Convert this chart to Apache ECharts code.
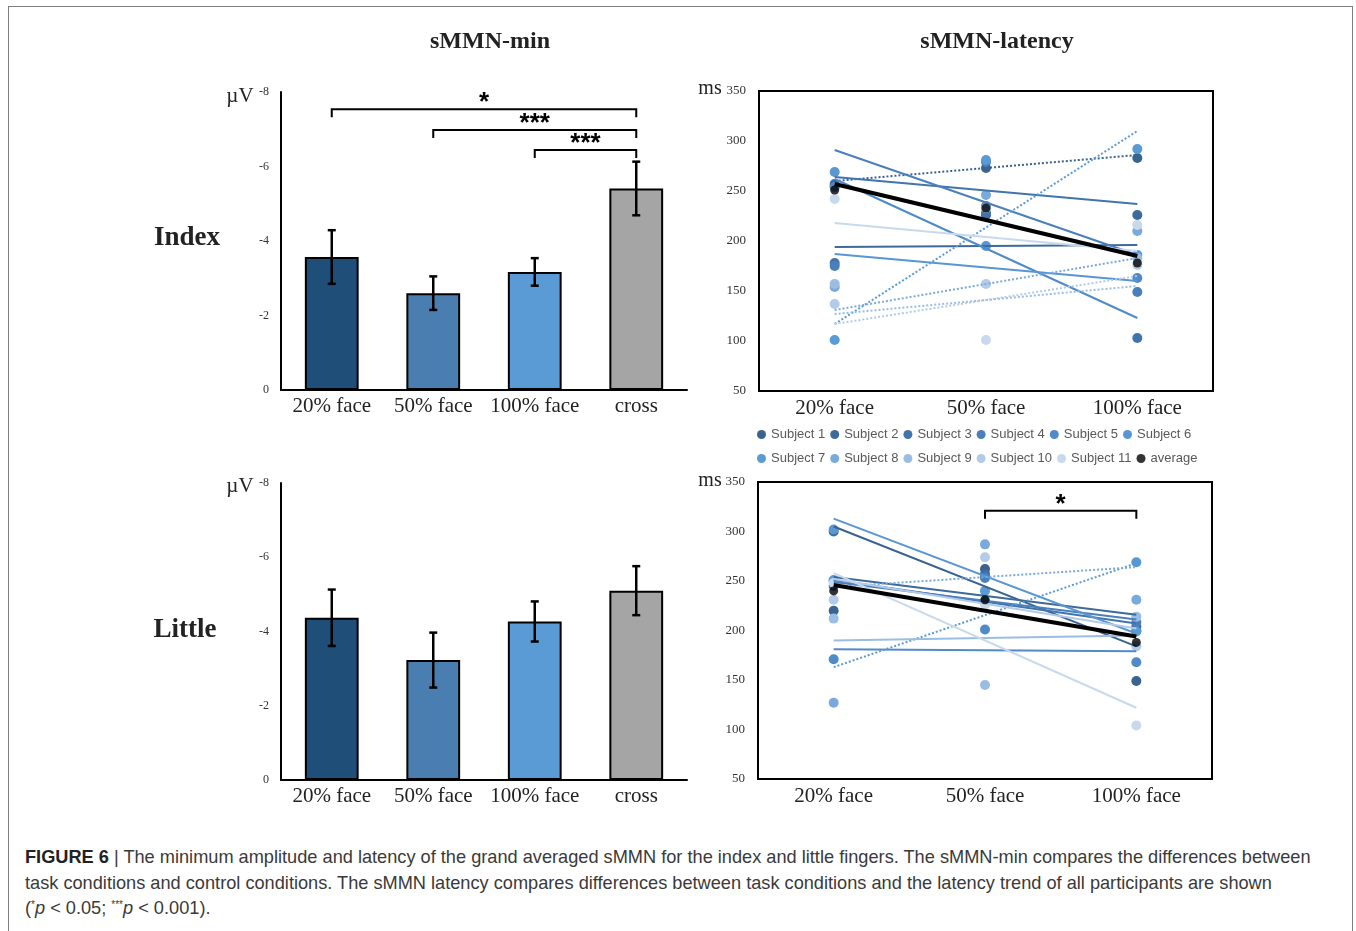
<!DOCTYPE html>
<html>
<head>
<meta charset="utf-8">
<title>sMMN-min and sMMN-latency</title>
<script src="https://cdn.jsdelivr.net/npm/echarts@6/dist/echarts.min.js"></script>
<style>
  html, body { margin: 0; padding: 0; background: #fff; }
  #frame {
    position: absolute; left: 8px; top: 6px; width: 1345px; height: 940px;
    border: 1px solid #7f7f7f; box-sizing: border-box;
  }
  #chart { position: absolute; left: 0; top: 0; width: 1356px; height: 840px; }
  #caption {
    position: absolute; left: 25px; top: 845px;
    font-family: "Liberation Sans", Arial, sans-serif; font-size: 18.2px;
    line-height: 25.5px; color: #3a3a3a; white-space: nowrap;
  }
  #caption b { color: #222; }
  #caption sup { font-size: 10px; vertical-align: 6px; line-height: 0; }
</style>
</head>
<body>
<div id="frame"></div>
<div id="chart"></div>
<div id="caption">
  <b>FIGURE 6</b> | The minimum amplitude and latency of the grand averaged sMMN for the index and little fingers. The sMMN-min compares the differences between<br>
  task conditions and control conditions. The sMMN latency compares differences between task conditions and the latency trend of all participants are shown<br>
  (<sup>*</sup><i>p</i> &lt; 0.05; <sup>***</sup><i>p</i> &lt; 0.001).
</div>
<script>
// ---- bar charts (sMMN-min, µV) ----
const barCategories = ['20% face', '50% face', '100% face', 'cross']
const barColors = ['#1f4e79', '#4a7db0', '#5b9bd5', '#a5a5a5']

const indexMin = [-3.57, -2.60, -3.17, -5.41]
const indexErr = [0.72, 0.45, 0.37, 0.72]
const littleMin = [-4.37, -3.23, -4.27, -5.10]
const littleErr = [0.76, 0.74, 0.54, 0.66]

// significance brackets: [from category, to category, level]
const indexSig = [[0, 3, -7.54], [1, 3, -6.98], [2, 3, -6.44]]
const indexSigText = ['*', '***', '***']

// ---- latency charts (ms) ----
const latencyCategories = ['20% face', '50% face', '100% face']
const subjectNames = ['Subject 1', 'Subject 2', 'Subject 3', 'Subject 4', 'Subject 5', 'Subject 6',
  'Subject 7', 'Subject 8', 'Subject 9', 'Subject 10', 'Subject 11']
const subjectColors = ['#3a6390', '#3d6a9a', '#4174ad', '#4a7fbb', '#4f8bc9', '#5896d4',
  '#5b9bd5', '#7aa9dc', '#9bbde3', '#b3cbe8', '#c8d9ee']

// index finger: dots per subject (20%, 50%, 100%)
const indexDots = [
  [255, 273, 283],
  [257, 226, 226],
  [178, 228, 103],
  [175, 279, 149],
  [254, 235, 163],
  [269, 195, 186],
  [101, 281, 292],
  [154, 246, 210],
  [157, 233, 183],
  [137, 157, 176],
  [242, 101, 216]
]
const indexAvg = [251, 233, 178]
// trend lines (value at 20%, value at 100%)
const indexTrends = [
  [260, 286], [194, 196], [264, 237], [291, 186], [262, 123], [187, 160],
  [117, 310], [131, 183], [127, 155], [117, 165], [218, 190]
]
const indexTrendDotted = [true, false, false, false, false, false, true, true, true, true, false]
const indexAvgTrend = [257, 185]

// little finger
const littleDots = [
  [220, 262, 149],
  [300, 257, 204],
  [245, 255, 200],
  [250, 253, 208],
  [171, 201, 168],
  [302, 230, 269],
  [251, 240, 199],
  [127, 287, 231],
  [212, 145, 214],
  [231, 274, 184],
  [248, 226, 104]
]
const littleAvg = [240, 231, 188]
const littleTrends = [
  [305, 184], [254, 216], [251, 207], [249, 211], [181, 179], [313, 197],
  [163, 268], [244, 264], [190, 195], [252, 202], [258, 122]
]
const littleTrendDotted = [false, false, false, false, false, false, true, true, false, false, false]
const littleAvgTrend = [246, 194]

const littleSig = [[1, 2, 321]]
const littleSigText = ['*']

const SERIF = '"Liberation Serif", "Times New Roman", serif'
const SANS = '"Liberation Sans", Arial, sans-serif'

const chart = echarts.init(document.getElementById('chart'))

// 误差线
function errorSeries (means, errs, gi) {
  return {
    type: 'custom',
    xAxisIndex: gi,
    yAxisIndex: gi,
    z: 5,
    data: means.map((v, i) => [i, v, errs[i]]),
    renderItem (params, api) {
      const i = api.value(0)
      const v = api.value(1)
      const e = api.value(2)
      const hi = api.coord([i, v - e])
      const lo = api.coord([i, v + e])
      const st = { stroke: '#000', lineWidth: 2.5 }
      return {
        type: 'group',
        children: [
          { type: 'line', shape: { x1: hi[0], y1: hi[1], x2: lo[0], y2: lo[1] }, style: st },
          { type: 'line', shape: { x1: hi[0] - 4, y1: hi[1], x2: hi[0] + 4, y2: hi[1] }, style: st },
          { type: 'line', shape: { x1: lo[0] - 4, y1: lo[1], x2: lo[0] + 4, y2: lo[1] }, style: st }
        ]
      }
    }
  }
}

// 显著性括号
function bracketSeries (sig, labels, gi) {
  return {
    type: 'custom',
    xAxisIndex: gi,
    yAxisIndex: gi,
    z: 6,
    encode: { x: 0, y: 2 },
    data: sig,
    renderItem (params, api) {
      const a = api.coord([api.value(0), api.value(2)])
      const b = api.coord([api.value(1), api.value(2)])
      return {
        type: 'group',
        children: [
          {
            type: 'polyline',
            shape: { points: [[a[0], a[1] + 8], [a[0], a[1]], [b[0], b[1]], [b[0], b[1] + 8]] },
            style: { stroke: '#000', lineWidth: 2, fill: null }
          },
          {
            type: 'text',
            x: (a[0] + b[0]) / 2,
            y: a[1] - 6,
            style: { text: labels[params.dataIndex], font: 'bold 26px ' + SANS, fill: '#000', align: 'center', verticalAlign: 'middle' }
          }
        ]
      }
    }
  }
}

function barSeries (means, gi) {
  return {
    type: 'bar',
    xAxisIndex: gi,
    yAxisIndex: gi,
    barWidth: '53%',
    data: means.map((v, i) => ({
      value: v,
      itemStyle: { color: barColors[i], borderColor: '#000', borderWidth: 2 }
    }))
  }
}

function latencySeries (dots, avg, trends, dotted, avgTrend, gi) {
  const out = []
  dots.forEach((d, k) => {
    out.push({
      name: subjectNames[k],
      type: 'scatter',
      xAxisIndex: gi,
      yAxisIndex: gi,
      symbolSize: 10,
      z: 2,
      itemStyle: { color: subjectColors[k], opacity: 1 },
      data: d
    })
  })
  trends.forEach((t, k) => {
    out.push({
      name: subjectNames[k],
      type: 'line',
      xAxisIndex: gi,
      yAxisIndex: gi,
      symbol: 'none',
      connectNulls: true,
      z: 3,
      itemStyle: { color: subjectColors[k] },
      lineStyle: { color: subjectColors[k], width: 2, type: dotted[k] ? 'dotted' : 'solid' },
      data: [t[0], '-', t[1]]
    })
  })
  out.push({
    name: 'average',
    type: 'scatter',
    xAxisIndex: gi,
    yAxisIndex: gi,
    symbolSize: 9,
    z: 5,
    itemStyle: { color: '#000' },
    data: avg
  })
  out.push({
    name: 'average',
    type: 'line',
    xAxisIndex: gi,
    yAxisIndex: gi,
    symbol: 'none',
    connectNulls: true,
    z: 4,
    itemStyle: { color: '#000' },
    lineStyle: { color: '#000', width: 4 },
    data: [avgTrend[0], '-', avgTrend[1]]
  })
  return out
}

const barX = {
  type: 'category',
  data: barCategories,
  axisLine: { lineStyle: { color: '#000', width: 2 } },
  axisTick: { show: false },
  axisLabel: { interval: 0, fontFamily: SERIF, fontSize: 21, color: '#222', margin: 6 }
}
const barY = {
  type: 'value',
  min: -8,
  max: 0,
  interval: 2,
  inverse: true,
  axisLine: { show: true, lineStyle: { color: '#000', width: 2 } },
  axisTick: { show: false },
  splitLine: { show: false },
  axisLabel: { fontFamily: SERIF, fontSize: 12, color: '#333', margin: 12 }
}
const latX = {
  type: 'category',
  data: latencyCategories,
  axisLine: { show: false },
  axisTick: { show: false },
  axisLabel: { interval: 0, fontFamily: SERIF, fontSize: 21, color: '#222', margin: 7 }
}
const latY = {
  type: 'value',
  min: 50,
  max: 350,
  interval: 50,
  axisLine: { show: false },
  axisTick: { show: false },
  splitLine: { show: false },
  axisLabel: { fontFamily: SERIF, fontSize: 13, color: '#333', margin: 13 }
}

const legendBase = {
  icon: 'circle',
  itemWidth: 9,
  itemHeight: 9,
  itemGap: 5,
  padding: 0,
  left: 757,
  textStyle: { fontFamily: SANS, fontSize: 13, color: '#595959' }
}

const txt = (x, y, text, font) => ({
  type: 'text', x, y,
  style: { text, font, fill: '#222', align: 'center', verticalAlign: 'middle' }
})

chart.setOption({
  animation: false,
  backgroundColor: 'transparent',
  grid: [
    { left: 281, top: 92, width: 406, height: 298 },
    { left: 759, top: 91, width: 454, height: 300, show: true, borderColor: '#000', borderWidth: 2 },
    { left: 281, top: 483, width: 406, height: 297 },
    { left: 758, top: 482, width: 454, height: 297, show: true, borderColor: '#000', borderWidth: 2 }
  ],
  xAxis: [
    { ...barX, gridIndex: 0 },
    { ...latX, gridIndex: 1 },
    { ...barX, gridIndex: 2 },
    { ...latX, gridIndex: 3 }
  ],
  yAxis: [
    { ...barY, gridIndex: 0 },
    { ...latY, gridIndex: 1 },
    { ...barY, gridIndex: 2 },
    { ...latY, gridIndex: 3 }
  ],
  legend: [
    { ...legendBase, top: 428, data: subjectNames.slice(0, 6) },
    { ...legendBase, top: 452, data: [...subjectNames.slice(6), 'average'] }
  ],
  graphic: [
    txt(490, 42, 'sMMN-min', 'bold 24px ' + SERIF),
    txt(997, 42, 'sMMN-latency', 'bold 24px ' + SERIF),
    txt(187, 238, 'Index', 'bold 27px ' + SERIF),
    txt(185, 630, 'Little', 'bold 27px ' + SERIF),
    txt(240, 96, 'µV', '21px ' + SERIF),
    txt(240, 486, 'µV', '21px ' + SERIF),
    txt(710, 89, 'ms', '20px ' + SERIF),
    txt(710, 481, 'ms', '20px ' + SERIF)
  ],
  series: [
    barSeries(indexMin, 0),
    errorSeries(indexMin, indexErr, 0),
    bracketSeries(indexSig, indexSigText, 0),
    ...latencySeries(indexDots, indexAvg, indexTrends, indexTrendDotted, indexAvgTrend, 1),
    barSeries(littleMin, 2),
    errorSeries(littleMin, littleErr, 2),
    ...latencySeries(littleDots, littleAvg, littleTrends, littleTrendDotted, littleAvgTrend, 3),
    bracketSeries(littleSig, littleSigText, 3)
  ]
})
</script>
</body>
</html>
